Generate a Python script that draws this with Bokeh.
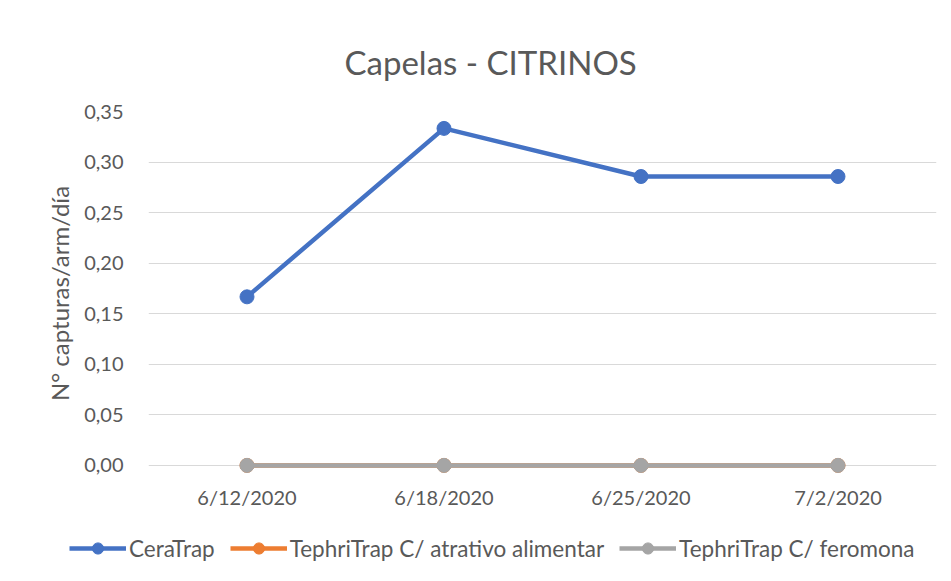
from bokeh.plotting import figure
from bokeh.models import (FactorRange, Range1d, FixedTicker, CustomJSTickFormatter,
                          Legend, LegendItem)
from bokeh.layouts import column
from bokeh.embed import file_html
from bokeh.resources import INLINE

# ---- data ----
dates = ["6/12/2020", "6/18/2020", "6/25/2020", "7/2/2020"]
ceratrap = [0.1667, 0.3333, 0.2857, 0.2857]
atrativo = [0.0, 0.0, 0.0, 0.0]
feromona = [0.0, 0.0, 0.0, 0.0]
y_ticks = [0.0, 0.05, 0.10, 0.15, 0.20, 0.25, 0.30, 0.35]

series = [
    ("CeraTrap", ceratrap, "#4472C4"),
    ("TephriTrap C/ atrativo alimentar", atrativo, "#ED7D31"),
    ("TephriTrap C/ feromona", feromona, "#A5A5A5"),
]

FONT = "Lato"
TXT = "#595959"
W = 943

p = figure(width=W, height=525, output_backend="svg", toolbar_location=None,
           x_range=FactorRange(*dates, range_padding=0),
           y_range=Range1d(-0.01, 0.35),
           min_border_left=148, min_border_right=7,
           min_border_top=111, min_border_bottom=50)

p.title.text = "Capelas - CITRINOS"
p.title.align = "left"
p.title.offset = 196
p.title.text_font = FONT
p.title.text_font_size = "33px"
p.title.text_font_style = "normal"
p.title.text_color = TXT
p.title.standoff = 60

p.outline_line_color = None
p.xgrid.grid_line_color = None
p.ygrid.grid_line_color = "#D9D9D9"
p.ygrid.grid_line_width = 1

p.yaxis.ticker = FixedTicker(ticks=y_ticks)
p.yaxis.formatter = CustomJSTickFormatter(code="return tick.toFixed(2).replace('.', ',');")
p.yaxis.axis_label = "N° capturas/arm/día"
p.yaxis.axis_label_text_font = FONT
p.yaxis.axis_label_text_font_size = "24px"
p.yaxis.axis_label_text_font_style = "normal"
p.yaxis.axis_label_text_color = TXT
p.yaxis.axis_label_standoff = 7
p.yaxis.major_label_standoff = 19

for ax in (p.xaxis, p.yaxis):
    ax.axis_line_color = None
    ax.major_tick_line_color = None
    ax.minor_tick_line_color = None
    ax.major_label_text_font = FONT
    ax.major_label_text_font_size = "20px"
    ax.major_label_text_color = TXT

p.xaxis.major_label_standoff = 3

for name, vals, color in series:
    p.line(dates, vals, line_color=color, line_width=4.5)
    p.scatter(dates, vals, size=14, fill_color=color, line_color=color)

# ---- legend strip: series drawn off-range, only their legend shows ----
lg = figure(width=W, height=48, output_backend="svg", toolbar_location=None,
            x_range=FactorRange(*dates), y_range=Range1d(10, 11),
            x_axis_location=None, y_axis_location=None,
            min_border=0, min_border_left=0, min_border_right=0,
            min_border_top=0, min_border_bottom=0, outline_line_color=None)
lg.grid.visible = False
for fig in (p, lg):
    try:
        fig.frame_align = False
    except Exception:
        pass

items = []
for name, vals, color in series:
    ln = lg.line(dates, vals, line_color=color, line_width=4.5)
    mk = lg.scatter(dates, vals, size=14, fill_color=color, line_color=color)
    items.append(LegendItem(label=name, renderers=[ln, mk]))

legend = Legend(items=items, orientation="horizontal", location=(69, 11),
                label_text_font=FONT, label_text_font_size="22.5px",
                label_text_color=TXT, glyph_width=57, glyph_height=28,
                label_standoff=3, spacing=15, padding=0, margin=0,
                border_line_color=None, background_fill_alpha=0)
lg.add_layout(legend, "center")

open("out.html", "w").write(file_html(column(p, lg), INLINE))
